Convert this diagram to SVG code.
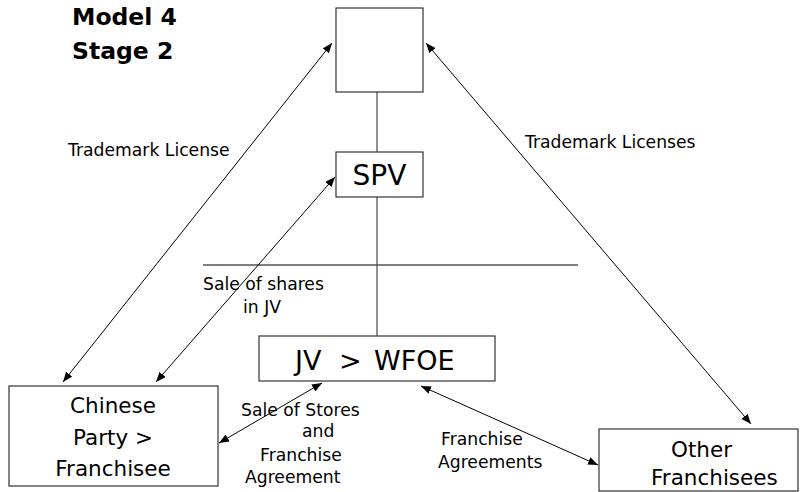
<svg xmlns="http://www.w3.org/2000/svg" width="800" height="492" viewBox="0 0 800 492">
<defs>
<marker id="ah" viewBox="0 0 10 8" refX="10" refY="4" markerWidth="10" markerHeight="8" markerUnits="userSpaceOnUse" orient="auto-start-reverse">
<path d="M0,0 L10,4 L0,8 Z" fill="#000"/>
</marker>
</defs>
<style>
.box{fill:#fff;stroke:#333;stroke-width:1.2}
.t{font-family:"DejaVu Sans","Verdana",sans-serif;fill:#000}
.lbl{font-size:17.2px}
.arr{stroke:#000;stroke-width:1;fill:none;marker-start:url(#ah);marker-end:url(#ah)}
.ln{stroke:#555;stroke-width:1.3;fill:none}
</style>
<rect width="800" height="492" fill="#fff"/>
<g id="title">
<text class="t" x="72" y="25" font-size="23.5" font-weight="bold">Model 4</text>
<text class="t" x="72" y="59" font-size="23.5" font-weight="bold">Stage 2</text>
</g>
<g id="connectors">
<line class="ln" x1="377" y1="92" x2="377" y2="152"/>
<line class="ln" x1="377" y1="197" x2="377" y2="336"/>
<line class="ln" x1="203" y1="265" x2="578" y2="265"/>
<line class="arr" x1="332" y1="43" x2="63" y2="382"/>
<line class="arr" x1="335" y1="177" x2="156" y2="382"/>
<line class="arr" x1="426" y1="43" x2="751" y2="424"/>
<line class="arr" x1="322" y1="383" x2="219" y2="443"/>
<line class="arr" x1="421" y1="386" x2="598" y2="465"/>
</g>
<g id="labels">
<text class="t lbl" x="68" y="156">Trademark License</text>
<text class="t lbl" x="525" y="148">Trademark Licenses</text>
<text class="t lbl" x="203" y="290">Sale of shares</text>
<text class="t lbl" x="243" y="313">in JV</text>
<text class="t lbl" x="241" y="416">Sale of Stores</text>
<text class="t lbl" x="302" y="437">and</text>
<text class="t lbl" x="260" y="461">Franchise</text>
<text class="t lbl" x="245" y="483">Agreement</text>
<text class="t lbl" x="441" y="445">Franchise</text>
<text class="t lbl" x="438" y="468">Agreements</text>
</g>
<g id="top">
<rect class="box" x="336" y="8" width="87" height="84"/>
</g>
<g id="spv">
<rect class="box" x="336" y="152" width="87" height="45"/>
<text class="t" x="379.5" y="185" font-size="28" text-anchor="middle">SPV</text>
</g>
<g id="jv">
<rect class="box" x="259" y="336" width="236" height="45"/>
<text class="t" y="369.5" font-size="27"><tspan x="295">JV</tspan> <tspan x="339">&gt;</tspan> <tspan x="374">WFOE</tspan></text>
</g>
<g id="chinese">
<rect class="box" x="9" y="386" width="209" height="100"/>
<text class="t" x="113" y="413" font-size="21.5" text-anchor="middle">Chinese</text>
<text class="t" x="113" y="445" font-size="21.5" text-anchor="middle">Party &gt;</text>
<text class="t" x="113" y="476" font-size="21.5" text-anchor="middle">Franchisee</text>
</g>
<g id="other">
<rect class="box" x="599" y="429" width="199" height="62"/>
<text class="t" x="671" y="457" font-size="21.5">Other</text>
<text class="t" x="651" y="485" font-size="21.5">Franchisees</text>
</g>
</svg>
